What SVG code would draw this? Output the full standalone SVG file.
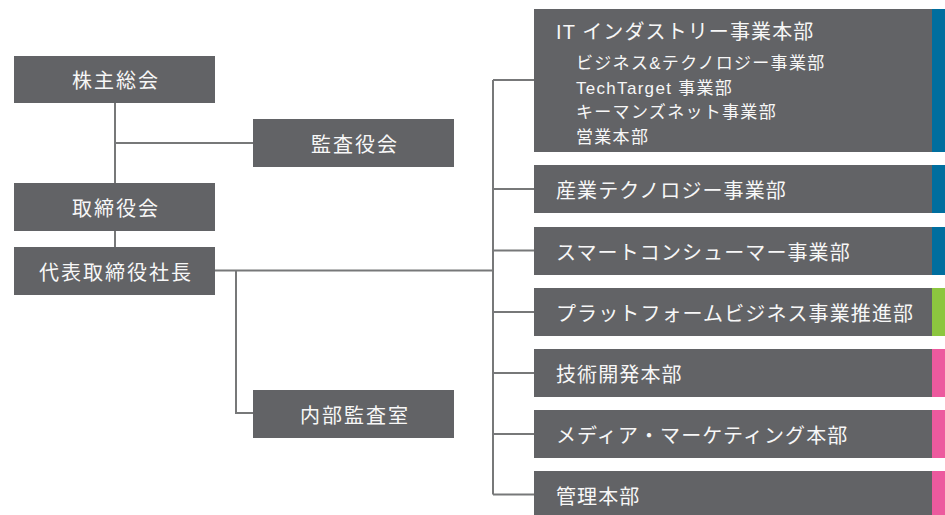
<svg xmlns="http://www.w3.org/2000/svg" width="945" height="515" viewBox="0 0 945 515">
<style>
.box{fill:#626366}
.t{font-family:"Liberation Sans","Noto Sans CJK JP",sans-serif;fill:#f7f7f7;dominant-baseline:central}
.l{font-size:20px;letter-spacing:1.1px}
.k{font-size:20px;letter-spacing:2px}
.c{text-anchor:middle}
.s{font-size:17px;letter-spacing:1.3px}
.ln{fill:none;stroke:#777879;stroke-width:2}
</style>
<rect width="945" height="515" fill="#ffffff"/>
<g id="connectors">
<path class="ln" d="M115 103V183M115 143H253M115 231V247M215 270.5H493M236 270.5V413H253M493 80V494.5M493 80H534M493 189H534M493 250.5H534M493 312H534M493 373H534M493 434H534M493 494.5H534"/>
</g>
<g id="n-shareholders"><rect class="box" x="14" y="56" width="201" height="47"/><text class="t k c" x="116" y="81">株主総会</text></g>
<g id="n-auditors"><rect class="box" x="253" y="119" width="201" height="48"/><text class="t k c" x="355" y="144.5">監査役会</text></g>
<g id="n-board"><rect class="box" x="14" y="183" width="201" height="48"/><text class="t k c" x="116" y="208.5">取締役会</text></g>
<g id="n-president"><rect class="box" x="14" y="247" width="201" height="48"/><text class="t k c" x="116" y="272.5">代表取締役社長</text></g>
<g id="n-internal-audit"><rect class="box" x="253" y="390" width="201" height="48"/><text class="t k c" x="355" y="415.5">内部監査室</text></g>
<g id="n-it"><rect class="box" x="534" y="9" width="398" height="143"/><rect x="932" y="9" width="13" height="143" fill="#006e9e"/>
<text class="t l" x="556" y="32">IT インダストリー事業本部</text>
<text class="t s" x="576" y="63">ビジネス&amp;テクノロジー事業部</text>
<text class="t s" x="576" y="88">TechTarget 事業部</text>
<text class="t s" x="576" y="112.5">キーマンズネット事業部</text>
<text class="t s" x="576" y="137">営業本部</text></g>
<g id="n-industrial"><rect class="box" x="534" y="165" width="398" height="48"/><rect x="932" y="165" width="13" height="48" fill="#006e9e"/><text class="t l" x="556" y="190.5">産業テクノロジー事業部</text></g>
<g id="n-smart"><rect class="box" x="534" y="227" width="398" height="48"/><rect x="932" y="227" width="13" height="48" fill="#006e9e"/><text class="t l" x="556" y="252.5">スマートコンシューマー事業部</text></g>
<g id="n-platform"><rect class="box" x="534" y="288" width="398" height="48"/><rect x="932" y="288" width="13" height="48" fill="#8cc63f"/><text class="t l" x="556" y="313.5">プラットフォームビジネス事業推進部</text></g>
<g id="n-tech"><rect class="box" x="534" y="349" width="398" height="48"/><rect x="932" y="349" width="13" height="48" fill="#ec5a9e"/><text class="t l" x="556" y="374.5">技術開発本部</text></g>
<g id="n-media"><rect class="box" x="534" y="410" width="398" height="48"/><rect x="932" y="410" width="13" height="48" fill="#ec5a9e"/><text class="t l" x="556" y="435.5">メディア・マーケティング本部</text></g>
<g id="n-admin"><rect class="box" x="534" y="471" width="398" height="44"/><rect x="932" y="471" width="13" height="44" fill="#ec5a9e"/><text class="t l" x="556" y="496.5">管理本部</text></g>
</svg>
